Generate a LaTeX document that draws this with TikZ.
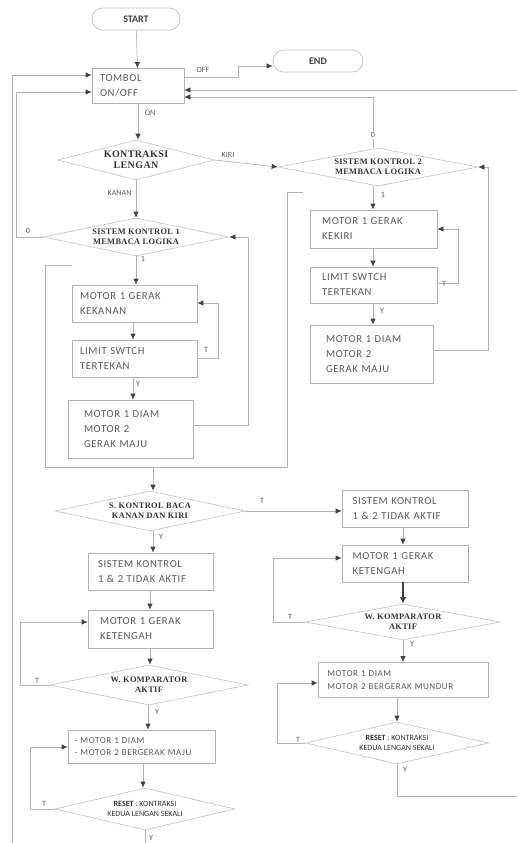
\documentclass[tikz,border=0pt]{standalone}
\usepackage{fontspec}
\setmainfont{Carlito}
\newfontfamily\boxfont[LetterSpace=6]{Carlito}
\newfontfamily\diafont[LetterSpace=4]{Liberation Serif}
\usetikzlibrary{arrows.meta,shapes.geometric}
\begin{document}
\begin{tikzpicture}[x=0.75pt,y=-0.75pt,
  line/.style={draw=gray!60, line width=0.5pt},
  arr/.style={line, -{Latex[length=4.5pt,width=4pt,color=black!75]}},
  box/.style={draw=gray!60, line width=0.5pt, rectangle, align=left, inner ysep=2pt,
    text=black!65, font=\boxfont\fontsize{8}{11.2}\selectfont},
  sbox/.style={box, font=\boxfont\fontsize{6.8}{9.5}\selectfont},
  term/.style={draw=gray!50, line width=0.5pt, rounded corners=8pt,
    font=\bfseries\fontsize{7.5}{9}\selectfont, text=black!75},
  dia/.style={diamond, draw=gray!45, line width=0.5pt, inner sep=0pt, align=center,
    font=\diafont\bfseries\fontsize{6.3}{7.5}\selectfont, text=black!80},
  lab/.style={font=\fontsize{6}{7}\selectfont, text=black!65, inner sep=1pt},
]
\useasboundingbox (0,0) rectangle (517,843);

% terminals and top
\node[term, minimum width=66pt, minimum height=16.5pt] (start) at (136,19) {START};
\node[term, minimum width=67.5pt, minimum height=16.5pt] (end) at (318,61) {END};
\node[box, minimum width=69pt, minimum height=26.25pt, inner xsep=6pt, text width=57pt] (tombol) at (138,86) {TOMBOL\\ON/OFF};

% decisions
\node[dia, minimum width=117.75pt, minimum height=30pt, aspect=3.9, font=\diafont\bfseries\fontsize{7.5}{8.5}\selectfont] (d0) at (136,160) {KONTRAKSI\\LENGAN};
\node[dia, minimum width=150pt, minimum height=28.5pt, aspect=5] (d2) at (378,167) {SISTEM KONTROL 2\\MEMBACA LOGIKA};
\node[dia, minimum width=139.5pt, minimum height=28.5pt, aspect=4.9] (d1) at (136,237) {SISTEM KONTROL 1\\MEMBACA LOGIKA};

% left sequence
\node[box, minimum width=93.75pt, minimum height=27.75pt, inner xsep=6pt, text width=81.75pt] (l1) at (134.5,303.5) {MOTOR 1 GERAK\\KEKANAN};
\node[box, minimum width=93.75pt, minimum height=27.75pt, inner xsep=6pt, text width=81.75pt] (l2) at (134.5,358.5) {LIMIT SWTCH\\TERTEKAN};
\node[box, minimum width=93.75pt, minimum height=43.5pt, inner xsep=12pt, text width=69.75pt] (l3) at (130.5,429) {MOTOR 1 DIAM\\MOTOR 2\\GERAK MAJU};

% right sequence
\node[box, minimum width=95.25pt, minimum height=28.5pt, inner xsep=9pt, text width=77.25pt] (r1) at (373.5,229) {MOTOR 1 GERAK\\KEKIRI};
\node[box, minimum width=95.25pt, minimum height=27pt, inner xsep=9pt, text width=77.25pt] (r2) at (373.5,285) {LIMIT SWTCH\\TERTEKAN};
\node[box, minimum width=92.25pt, minimum height=43.5pt, inner xsep=12pt, text width=68.25pt] (r3) at (371.5,354) {MOTOR 1 DIAM\\MOTOR 2\\GERAK MAJU};

% lower part
\node[dia, minimum width=142.5pt, minimum height=30pt, aspect=4.75] (d3) at (150,511) {S. KONTROL BACA\\KANAN DAN KIRI};
\node[box, minimum width=93.75pt, minimum height=27.75pt, inner xsep=7.5pt, text width=78.75pt] (b1) at (150.5,571.5) {SISTEM KONTROL\\1 \& 2 TIDAK AKTIF};
\node[box, minimum width=93.75pt, minimum height=28.5pt, inner xsep=9pt, text width=75.75pt] (b2) at (150.5,629) {MOTOR 1 GERAK\\KETENGAH};
\node[dia, minimum width=148.5pt, minimum height=30pt, aspect=5] (d4) at (149,685) {W. KOMPARATOR\\AKTIF};
\node[sbox, minimum width=110.25pt, minimum height=24.75pt, inner xsep=5pt, text width=100.25pt] (b3) at (141.5,746.5) {- MOTOR 1 DIAM\\- MOTOR 2 BERGERAK MAJU};
\node[dia, minimum width=135pt, minimum height=31.5pt, aspect=4.3, font=\fontsize{6}{8}\selectfont] (d5) at (145,809) {\textbf{RESET} : KONTRAKSI\\KEDUA LENGAN SEKALI};

\node[box, minimum width=94.5pt, minimum height=27.75pt, inner xsep=8pt, text width=78.5pt] (rb1) at (405,508.5) {SISTEM KONTROL\\1 \& 2 TIDAK AKTIF};
\node[box, minimum width=94.5pt, minimum height=27.75pt, inner xsep=8pt, text width=78.5pt] (rb2) at (405,563.5) {MOTOR 1 GERAK\\KETENGAH};
\node[dia, minimum width=146.25pt, minimum height=27pt, aspect=5.4] (rd4) at (403,622) {W. KOMPARATOR\\AKTIF};
\node[sbox, minimum width=127.5pt, minimum height=26.25pt, inner xsep=7pt, text width=113.5pt] (rb3) at (403,680) {MOTOR 1 DIAM\\MOTOR 2 BERGERAK MUNDUR};
\node[dia, minimum width=137.25pt, minimum height=31.5pt, aspect=4.3, font=\fontsize{6}{8}\selectfont] (rd5) at (397,743) {\textbf{RESET} : KONTRAKSI\\KEDUA LENGAN SEKALI};

% free ends
\coordinate (leftbottom) at (12,843);
\coordinate (rightin) at (517,90);
\coordinate (rightout) at (517,796);
\coordinate (d5out) at (145,843);
\coordinate (brk) at (153,467);

% connectors top
\draw[arr] (start) -- (tombol);
\draw[arr] (tombol.east |- 0,77) -- (238,77) -- (238,66) -- (end.west |- 0,66);
\node[lab] (loff) at (203,70) {OFF};
\draw[arr] (tombol.south |- 0,103.5) -- (d0.north -| tombol.south);
\node[lab] (lon) at (150,113) {ON};
\draw[arr] (d0.east) -- (d2.west);
\node[lab] (lkiri) at (228,155) {KIRI};
\draw[arr] (d0.south) -- (d1.north);
\node[lab, anchor=east] (lkanan) at (133,193) {KANAN};
\draw[arr] (d1.west) -- (16,237) -- (16,92) -- (tombol.west |- 0,92);
\node[lab] (l0a) at (28,231) {0};
\draw[arr] (leftbottom) -- (12,75) -- (tombol.west |- 0,75);
\draw[arr] (d2.north -| 373,0) -- (373,97) -- (tombol.east |- 0,97);
\node[lab, fill=white] (l0b) at (373,135) {0};
\draw[arr] (rightin) -- (tombol.east |- 0,90);

% left loop
\draw[arr] (d1.south) -- (l1.north -| d1.south);
\node[lab] (l1a) at (143,259) {1};
\draw[arr] (l1.south -| 133,0) -- (l2.north -| 133,0);
\draw[arr] (l2.east |- 0,358) -- (218,358) -- (218,303) -- (l1.east |- 0,303);
\node[lab] (lt1) at (206,350) {T};
\draw[arr] (l2.south -| 133,0) -- (l3.north -| 133,0);
\node[lab] (ly1) at (138,384) {Y};
\draw[arr] (l3.east |- 0,425) -- (248,425) -- (248,237) -- (d1.east);

% right loop
\draw[arr] (d2.south -| 373,0) -- (r1.north -| 373,0);
\node[lab] (l1b) at (383,195) {1};
\draw[arr] (r1.south -| 373,0) -- (r2.north -| 373,0);
\draw[arr] (r2.east |- 0,283) -- (458,283) -- (458,229) -- (r1.east |- 0,229);
\node[lab] (lt2) at (444,284) {T};
\draw[arr] (r2.south -| 373,0) -- (r3.north -| 373,0);
\node[lab] (ly2) at (382,311) {Y};
\draw[arr] (r3.east |- 0,350) -- (488,350) -- (488,167) -- (d2.east);

% bracket
\draw[line] (72,265) -- (45,265) -- (45,467) -- (287,467) -- (287,192) -- (303,192);
\draw[arr] (brk) -- (d3.north -| brk);

% lower left
\draw[arr] (d3.east) -- (rb1.west |- d3.east);
\node[lab] (lt3) at (262,501) {T};
\draw[arr] (d3.south -| 153,0) -- (b1.north -| 153,0);
\node[lab] (ly3) at (161,537) {Y};
\draw[arr] (b1.south -| 150,0) -- (b2.north -| 150,0);
\draw[arr] (b2.south -| 150,0) -- (d4.north -| 150,0);
\draw[arr] (d4.west) -- (20,685) -- (20,622) -- (b2.west |- 0,622);
\node[lab] (lt4) at (37,681) {T};
\draw[arr] (d4.south -| 148,0) -- (b3.north -| 148,0);
\node[lab] (ly4) at (157,712) {Y};
\draw[arr] (b3.south -| 143,0) -- (d5.north -| 143,0);
\draw[arr] (d5.west) -- (30,809) -- (30,747) -- (b3.west |- 0,747);
\node[lab] (lt5) at (44,804) {T};
\draw[line] (d5.south) -- (d5out);
\node[lab] (ly5) at (151,838) {Y};

% lower right
\draw[arr] (rb1.south -| 403,0) -- (rb2.north -| 403,0);
\draw[draw=black!75, line width=1.8pt, -{Latex[length=5pt,width=5pt]}] (rb2.south -| 403,0) -- (rd4.north -| 403,0);
\draw[arr] (rd4.west) -- (273,622) -- (273,558) -- (rb2.west |- 0,558);
\node[lab] (lt6) at (290,617) {T};
\draw[arr] (rd4.south -| 403,0) -- (rb3.north -| 403,0);
\node[lab] (ly6) at (412,644) {Y};
\draw[arr] (rb3.south -| 397,0) -- (rd5.north -| 397,0);
\draw[arr] (rd5.west) -- (277,743) -- (277,683) -- (rb3.west |- 0,683);
\node[lab] (lt7) at (298,740) {T};
\draw[line] (rd5.south) -- (397,796) -- (rightout);
\node[lab] (ly7) at (405,770) {Y};
\end{tikzpicture}
\end{document}
